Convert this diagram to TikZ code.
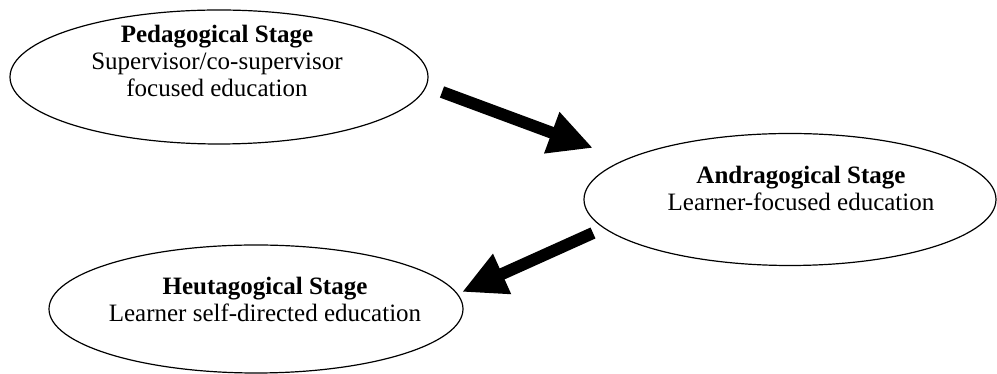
\documentclass[tikz,border=0pt]{standalone}
\usepackage{fontspec}
\setmainfont{Liberation Serif}
\usetikzlibrary{arrows.meta,shapes.geometric}

\begin{document}
\begin{tikzpicture}[x=1pt,y=1pt,
    fase/.style={draw, line width=1.2pt, ellipse, inner sep=0pt},
    testo/.style={align=center, inner sep=0pt, font=\fontsize{25}{27}\selectfont},
    freccia/.style={line width=12pt, -{Triangle[length=44pt,width=41pt]}}]
    % Fissa i margini del disegno
    \useasboundingbox (0,0) rectangle (997,374);

    % Disegna le tre ellissi
    \node[fase, minimum width=418pt, minimum height=134pt] (ped) at (219,297) {};
    \node[fase, minimum width=412pt, minimum height=132pt] (andr) at (790,174.5) {};
    \node[fase, minimum width=414pt, minimum height=128pt] (heut) at (256,65) {};

    % Testi delle fasi
    \node[testo] (pedtxt) at (217,313) {\textbf{Pedagogical Stage}\\Supervisor/co-supervisor\\focused education};
    \node[testo] (andrtxt) at (801,186) {\textbf{Andragogical Stage}\\Learner-focused education};
    \node[testo] (heuttxt) at (265,75) {\textbf{Heutagogical Stage}\\Learner self-directed education};

    % Estremi delle frecce
    \coordinate (p1) at (442,282);
    \coordinate (a1) at (593,226);
    \coordinate (a2) at (593,141);
    \coordinate (h1) at (462,82);

    % Disegna le frecce
    \draw[freccia] (p1) -- (a1);
    \draw[freccia] (a2) -- (h1);
\end{tikzpicture}
\end{document}
